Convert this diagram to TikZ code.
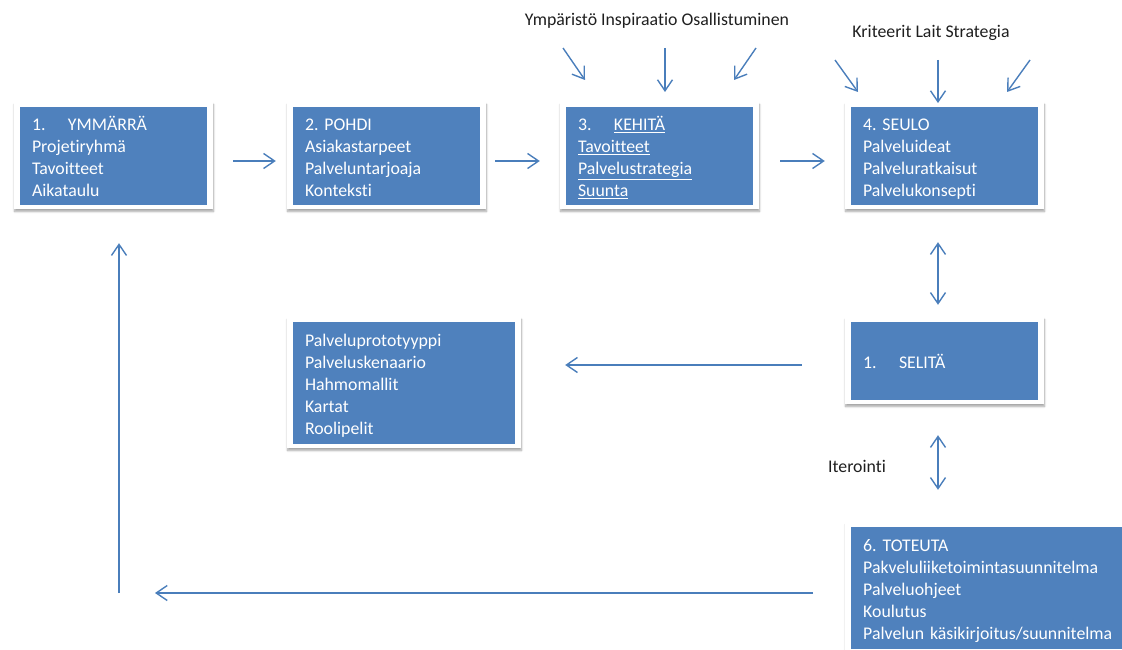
\documentclass[tikz,border=0pt]{standalone}
\usepackage{fontspec}
\setmainfont{Carlito}[Ligatures=NoCommon]
\usetikzlibrary{arrows.meta,shadows.blur,calc}
\definecolor{boxblue}{HTML}{4F81BD}
\definecolor{arrowblue}{HTML}{4A7EBB}
\tikzset{
  box/.style={fill=white, draw=none, inner ysep=0pt, inner xsep=18pt,
    blur shadow={shadow xshift=0.5pt, shadow yshift=-2.5pt, shadow opacity=35, shadow blur steps=6},
    path picture={\fill[boxblue] ([shift={(6pt,-5pt)}]path picture bounding box.north west) rectangle ([shift={(-6pt,4.5pt)}]path picture bounding box.south east);},
    text=white, align=left, font=\fontsize{17.8}{22}\selectfont},
  arr/.style={draw=arrowblue, line width=1.4pt, -{Straight Barb[length=11pt,width=15pt,line width=1.4pt]}},
  darr/.style={draw=arrowblue, line width=1.4pt, {Straight Barb[length=11pt,width=15pt,line width=1.4pt]}-{Straight Barb[length=11pt,width=15pt,line width=1.4pt]}},
  lbl/.style={text=black!88, font=\fontsize{17.8}{22}\selectfont, inner sep=0pt}
}
\newcommand{\numlbl}[2]{\makebox[36pt][l]{#1}#2}
\newcommand{\Ln}[1]{\rule[-3pt]{0pt}{22pt}\smash{#1}}
\frenchspacing
\begin{document}
\begin{tikzpicture}[x=1pt,y=-1pt]
\useasboundingbox (0,0) rectangle (1122,650);
% boxes
\node[box, minimum width=199pt, minimum height=107pt, text width=163pt] (B1) at (113.5,155.5)
  {\Ln{\numlbl{1.}{YMMÄRRÄ}}\\\Ln{Projetiryhmä}\\\Ln{Tavoitteet}\\\Ln{Aikataulu}};
\node[box, minimum width=199pt, minimum height=107pt, text width=163pt] (B2) at (386.5,155.5)
  {\Ln{2. POHDI}\\\Ln{Asiakastarpeet}\\\Ln{Palveluntarjoaja}\\\Ln{Konteksti}};
\node[box, minimum width=199pt, minimum height=107pt, text width=163pt] (B3) at (659.5,155.5)
  {\Ln{\numlbl{3.}{\underline{KEHITÄ}}}\\\Ln{\underline{Tavoitteet}}\\\Ln{\underline{Palvelustrategia}}\\\Ln{\underline{Suunta}}};
\node[box, minimum width=199pt, minimum height=107pt, text width=163pt] (B4) at (944.5,155.5)
  {\Ln{4. SEULO}\\\Ln{Palveluideat}\\\Ln{Palveluratkaisut}\\\Ln{Palvelukonsepti}};
\node[box, minimum width=234pt, minimum height=131pt, text width=198pt] (B5) at (404,382.5)
  {\Ln{Palveluprototyyppi}\\\Ln{Palveluskenaario}\\\Ln{Hahmomallit}\\\Ln{Kartat}\\\Ln{Roolipelit}};
\node[box, minimum width=199pt, minimum height=87pt, text width=163pt] (B6) at (944.5,360.5)
  {\Ln{\numlbl{1.}{SELITÄ}}};
\node[box, anchor=west, minimum width=282pt, minimum height=131pt, text width=260pt] (B7) at (845,587.5)
  {\Ln{6. TOTEUTA}\\\Ln{Pakveluliiketoimintasuunnitelma}\\\Ln{Palveluohjeet}\\\Ln{Koulutus}\\\Ln{Palvelun käsikirjoitus/suunnitelma}};
% labels
\node[lbl] (L3) at (657,21) {Ympäristö Inspiraatio Osallistuminen};
\node[lbl] (L4) at (931,33) {Kriteerit Lait Strategia};
\node[lbl] (LI) at (857,466) {Iterointi};
% horizontal arrows
\draw[arr, shorten <=20pt, shorten >=11pt] ([yshift=-5.5pt]B1.east) -- ([yshift=-5.5pt]B2.west);
\draw[arr, shorten <=9pt, shorten >=20pt] ([yshift=-5.5pt]B2.east) -- ([yshift=-5.5pt]B3.west);
\draw[arr, shorten <=21pt, shorten >=20pt] ([yshift=-5.5pt]B3.east) -- ([yshift=-5.5pt]B4.west);
% top arrows into box 3
\coordinate (a1s) at (563,48); \coordinate (a1e) at (585,80);
\coordinate (a2s) at (665,48); \coordinate (a2e) at (665,92);
\coordinate (a3s) at (756,48); \coordinate (a3e) at (734,80);
\draw[arr] (a1s) -- (a1e);
\draw[arr] (a2s) -- (a2e);
\draw[arr] (a3s) -- (a3e);
% top arrows into box 4
\coordinate (b1s) at (835,60); \coordinate (b1e) at (858,92);
\coordinate (b2s) at (938,60); \coordinate (b2e) at (938,103);
\coordinate (b3s) at (1030,60); \coordinate (b3e) at (1007,92);
\draw[arr] (b1s) -- (b1e);
\draw[arr] (b2s) -- (b2e);
\draw[arr] (b3s) -- (b3e);
% vertical double arrows
\coordinate (d1) at ([xshift=-6.5pt]B4.south);
\draw[darr, shorten <=33pt, shorten >=12pt] (d1) -- (B6.north -| d1);
\coordinate (d2) at ([xshift=-6.5pt]B6.south);
\draw[darr, shorten <=31pt, shorten >=32pt] (d2) -- (B7.north -| d2);
% selita -> prototype box
\coordinate (s6) at ([yshift=-4.5pt]B6.west);
\draw[arr, shorten <=43pt, shorten >=44pt] (s6) -- (B5.east |- s6);
% bottom return
\coordinate (c2) at (155,593);
\draw[arr, shorten <=32pt] ([yshift=-5.5pt]B7.west) -- (c2);
\coordinate (c1) at (119,593);
\draw[arr, shorten >=34pt] (c1) -- (B1.south -| c1);
\end{tikzpicture}
\end{document}
